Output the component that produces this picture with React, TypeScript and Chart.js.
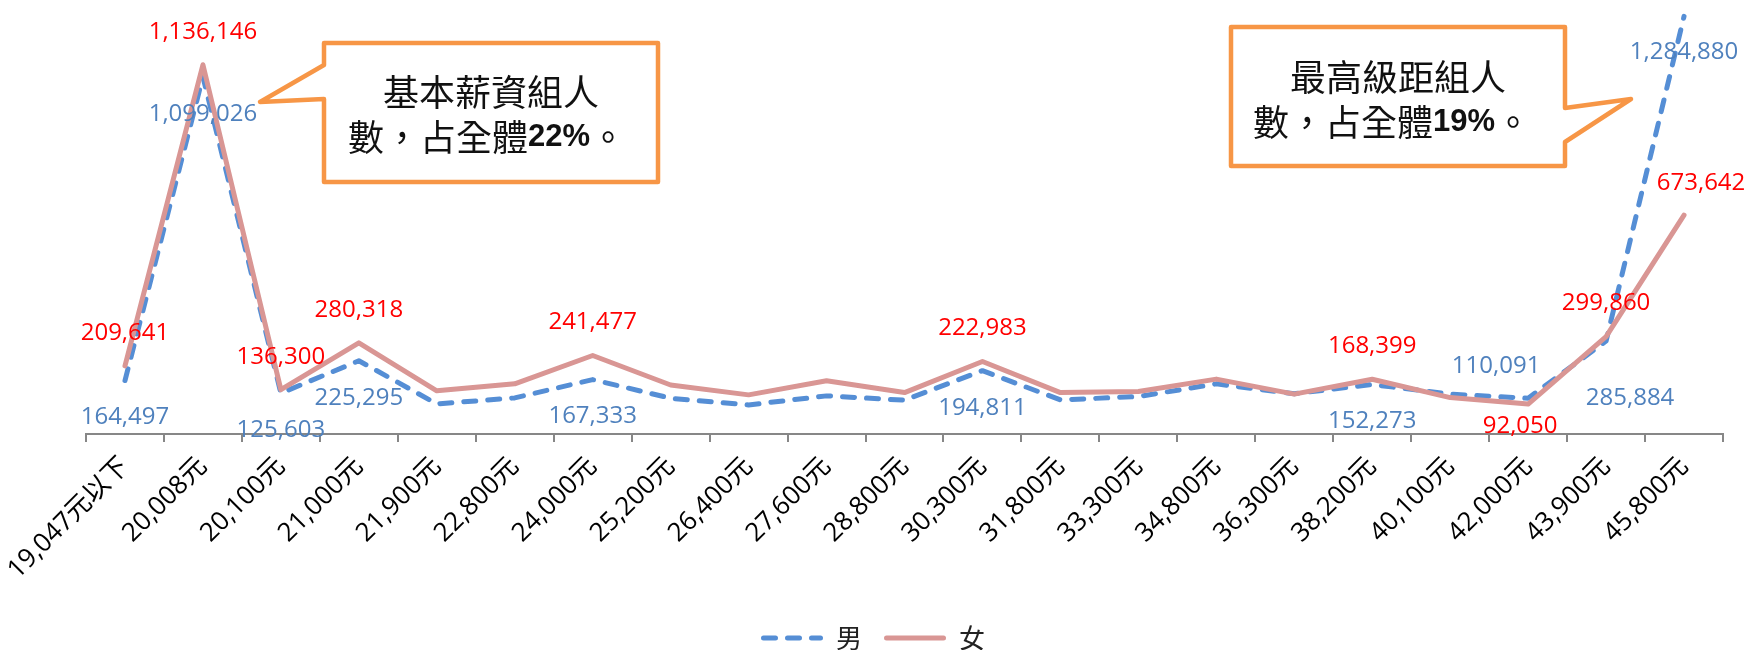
import { useEffect, useRef } from "react";
import { Chart, registerables } from "chart.js";

Chart.register(...registerables);

// ---------- data ----------
const categories = [
  "19,047元以下", "20,008元", "20,100元", "21,000元", "21,900元", "22,800元", "24,000元",
  "25,200元", "26,400元", "27,600元", "28,800元", "30,300元", "31,800元", "33,300元",
  "34,800元", "36,300元", "38,200元", "40,100元", "42,000元", "43,900元", "45,800元",
];
const maleValues = [
  164497, 1099026, 125603, 225295, 92600, 111100, 167333, 110000, 89500, 117300, 104000,
  194811, 105000, 115200, 154300, 124000, 152273, 122600, 110091, 285884, 1284880,
];
const femaleValues = [
  209641, 1136146, 136300, 280318, 132800, 154400, 241477, 150800, 120400, 163600, 127500,
  222983, 127500, 130600, 168900, 122600, 168399, 112000, 92050, 299860, 673642,
];
const seriesNames = ["男", "女"];
const labeledIndices = [0, 1, 2, 3, 6, 11, 16, 18, 19, 20];
const callout1Line1 = "基本薪資組人";
const callout1Line2 = ["數，占全體", "22%", "。"];
const callout2Line1 = "最高級距組人";
const callout2Line2 = ["數，占全體", "19%", "。"];

// ---------- styles ----------
const MALE = "#558ED5";
const FEMALE = "#D99694";
const MALE_TEXT = "#4F81BD";
const FEMALE_TEXT = "#FF0000";
const AXIS = "#878787";
const ORANGE = "#F79646";
const LATIN = "'Open Sans', 'Noto Sans CJK TC', sans-serif";
const CJK = "'Noto Sans CJK TC', 'Open Sans', sans-serif";
const DASH = [12, 12];

// label shifts (px) relative to the point
const maleShift: Record<number, [number, number]> = { 18: [-32, -32], 19: [24, 57], 20: [0, 36] };
const femaleShift: Record<number, [number, number]> = { 18: [-8, 22], 20: [17, -32] };

const fmt = (v: number) => v.toLocaleString("en-US");

const valueLabelPlugin = {
  id: "valueLabels",
  afterDatasetsDraw(chart: any) {
    const ctx = chart.ctx;
    ctx.save();
    ctx.font = `24px ${LATIN}`;
    ctx.textAlign = "center";
    ctx.textBaseline = "middle";
    chart.data.datasets.forEach((ds: any, di: number) => {
      const meta = chart.getDatasetMeta(di);
      const isMale = di === 0;
      labeledIndices.forEach((i) => {
        const el = meta.data[i];
        if (!el) return;
        const shift = isMale ? maleShift[i] ?? [0, 37] : femaleShift[i] ?? [0, -33];
        ctx.fillStyle = isMale ? MALE_TEXT : FEMALE_TEXT;
        ctx.fillText(fmt(ds.data[i] as number), el.x + shift[0], el.y + shift[1]);
      });
    });
    ctx.restore();
  },
};

function drawLine2(ctx: CanvasRenderingContext2D, parts: string[], cx: number, cy: number) {
  const fonts = [`36px ${CJK}`, `bold 31px 'Liberation Sans', ${LATIN}`, `36px ${CJK}`];
  const widths = parts.map((p, k) => {
    ctx.font = fonts[k];
    return ctx.measureText(p).width;
  });
  const total = widths.reduce((a, b) => a + b, 0);
  let x = cx - total / 2;
  parts.forEach((p, k) => {
    ctx.font = fonts[k];
    ctx.fillText(p, x, cy);
    x += widths[k];
  });
}

const calloutPlugin = {
  id: "callouts",
  afterDraw(chart: any) {
    const ctx = chart.ctx as CanvasRenderingContext2D;
    ctx.save();
    ctx.lineWidth = 4.5;
    ctx.strokeStyle = ORANGE;
    ctx.fillStyle = "#FFFFFF";
    ctx.lineJoin = "round";

    // callout 1 (pointer on left)
    ctx.beginPath();
    ctx.moveTo(324, 43);
    ctx.lineTo(658, 43);
    ctx.lineTo(658, 182);
    ctx.lineTo(324, 182);
    ctx.lineTo(324, 99);
    ctx.lineTo(260, 102);
    ctx.lineTo(324, 65);
    ctx.closePath();
    ctx.fill();
    ctx.stroke();

    // callout 2 (pointer on right)
    ctx.beginPath();
    ctx.moveTo(1231, 27);
    ctx.lineTo(1565, 27);
    ctx.lineTo(1565, 108);
    ctx.lineTo(1631, 99);
    ctx.lineTo(1565, 142);
    ctx.lineTo(1565, 166);
    ctx.lineTo(1231, 166);
    ctx.closePath();
    ctx.fill();
    ctx.stroke();

    ctx.fillStyle = "#111111";
    ctx.textBaseline = "middle";
    ctx.textAlign = "center";
    ctx.font = `36px ${CJK}`;
    ctx.fillText(callout1Line1, 491, 92);
    ctx.fillText(callout2Line1, 1398, 77);
    ctx.textAlign = "left";
    drawLine2(ctx, callout1Line2, 487, 137);
    drawLine2(ctx, callout2Line2, 1392, 122);
    ctx.restore();
  },
};

const legendPlugin = {
  id: "customLegend",
  afterDraw(chart: any) {
    const ctx = chart.ctx as CanvasRenderingContext2D;
    ctx.save();
    ctx.font = `26px ${CJK}`;
    ctx.textBaseline = "middle";
    const sample = 62;
    const gap = 13;
    const itemGap = 22;
    const widths = seriesNames.map((n) => sample + gap + ctx.measureText(n).width);
    const total = widths.reduce((a, b) => a + b, 0) + itemGap;
    let x = chart.width / 2 - total / 2;
    const y = 638;
    seriesNames.forEach((name, k) => {
      ctx.beginPath();
      ctx.lineWidth = 5;
      ctx.lineCap = "round";
      ctx.strokeStyle = k === 0 ? MALE : FEMALE;
      ctx.setLineDash(k === 0 ? DASH : []);
      ctx.moveTo(x + 2.5, y);
      ctx.lineTo(x + sample - 2.5, y);
      ctx.stroke();
      ctx.setLineDash([]);
      ctx.fillStyle = "#222222";
      ctx.fillText(name, x + sample + gap, y);
      x += widths[k] + itemGap;
    });
    ctx.restore();
  },
};

export default function App() {
  const ref = useRef<HTMLCanvasElement>(null);
  useEffect(() => {
    document.body.style.margin = "0";
    const canvas = ref.current!;
    const chart = new Chart(canvas, {
      type: "line",
      data: {
        labels: categories,
        datasets: [
          {
            label: seriesNames[0],
            data: maleValues,
            borderColor: MALE,
            backgroundColor: MALE,
            borderWidth: 5,
            borderDash: DASH,
            borderCapStyle: "round",
            borderJoinStyle: "round",
            pointRadius: 0,
            tension: 0,
            fill: false,
            order: 1,
          },
          {
            label: seriesNames[1],
            data: femaleValues,
            borderColor: FEMALE,
            backgroundColor: FEMALE,
            borderWidth: 5,
            borderCapStyle: "round",
            borderJoinStyle: "round",
            pointRadius: 0,
            tension: 0,
            fill: false,
            order: 0,
          },
        ],
      },
      options: {
        responsive: false,
        maintainAspectRatio: false,
        animation: false,
        devicePixelRatio: 1,
        layout: { padding: { left: 86, right: 23, top: 5, bottom: 0 } },
        plugins: {
          legend: { display: false },
          tooltip: { enabled: false },
        },
        scales: {
          x: {
            offset: true,
            grid: {
              offset: true,
              drawOnChartArea: false,
              drawTicks: true,
              tickLength: 8,
              color: AXIS,
              lineWidth: 2,
            },
            border: { display: true, color: AXIS, width: 2 },
            ticks: {
              autoSkip: false,
              minRotation: 45,
              maxRotation: 45,
              color: "#000000",
              padding: 9,
              font: { size: 26, family: LATIN },
            },
            afterFit: (scale: any) => {
              scale.height = 216;
            },
          },
          y: { display: false, min: 0, max: 1320000 },
        },
      },
      plugins: [valueLabelPlugin, calloutPlugin, legendPlugin],
    } as any);
    return () => chart.destroy();
  }, []);
  return (
    <div style={{ width: 1746, height: 650 }}>
      <canvas ref={ref} width={1746} height={650} style={{ display: "block", width: 1746, height: 650 }} />
    </div>
  );
}
